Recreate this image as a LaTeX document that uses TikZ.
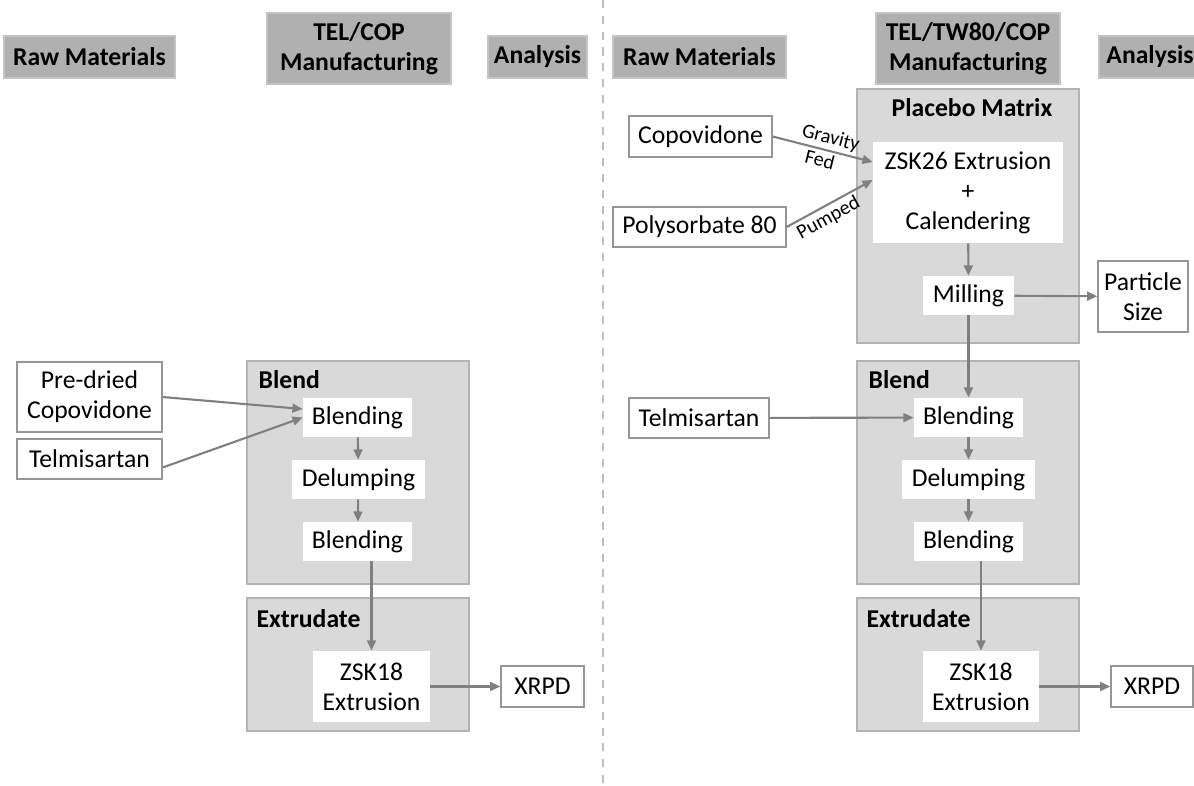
\documentclass[tikz,border=0pt]{standalone}
\usepackage{fontspec}
\setmainfont{Carlito}
\usepackage{tikz}
\usetikzlibrary{arrows.meta, positioning}
\definecolor{headbg}{RGB}{176,176,176}
\definecolor{headline}{RGB}{196,196,196}
\definecolor{groupbg}{RGB}{217,217,217}
\definecolor{groupline}{RGB}{180,180,180}
\definecolor{boxline}{RGB}{150,150,150}
\definecolor{arrowgray}{RGB}{128,128,128}
\definecolor{splitgray}{RGB}{190,190,190}

\begin{document}
\begin{tikzpicture}[
    mainfont/.style={font=\fontsize{14.6}{17}\selectfont},
    header/.style={rectangle, draw=headline, fill=headbg, line width=0.8pt, inner sep=0pt, align=center, font=\fontsize{14.6}{17}\selectfont\bfseries},
    group/.style={rectangle, draw=groupline, fill=groupbg, line width=0.8pt, inner sep=0pt},
    grouplabel/.style={inner sep=0pt, font=\fontsize{14.6}{17}\selectfont\bfseries},
    inbox/.style={rectangle, draw=boxline, fill=white, line width=0.7pt, inner sep=0pt, align=center, mainfont},
    procbox/.style={rectangle, fill=white, inner sep=0pt, align=center, mainfont},
    arrow/.style={-{Triangle[length=5.8pt, width=5pt]}, draw=arrowgray, line width=1.2pt},
    feedlabel/.style={inner sep=1.5pt, font=\fontsize{11.5}{13}\selectfont}
]
\clip (0,0) rectangle (23.88,-15.70);

\draw[splitgray, line width=1.6pt, dash pattern=on 4.6pt off 4.4pt] (12.06,0) -- (12.06,-15.70);

\node[header, minimum width=3.42cm, minimum height=0.84cm] (rawL) at (1.79,-1.14) {Raw Materials};
\node[header, minimum width=3.68cm, minimum height=1.42cm] (mfgL) at (7.18,-0.97) {TEL/COP\\Manufacturing};
\node[header, minimum width=1.98cm, minimum height=0.84cm] (anaL) at (10.75,-1.14) {Analysis};
\node[header, minimum width=3.46cm, minimum height=0.84cm] (rawR) at (13.99,-1.14) {Raw Materials};
\node[header, minimum width=3.68cm, minimum height=1.42cm] (mfgR) at (19.36,-0.97) {TEL/TW80/COP\\Manufacturing};
\node[header, minimum width=2.04cm, minimum height=0.84cm] (anaR) at (23.00,-1.14) {Analysis};

\node[group, minimum width=4.44cm, minimum height=4.46cm] (blendL) at (7.16,-9.45) {};
\node[group, minimum width=4.44cm, minimum height=2.66cm] (extL) at (7.16,-13.29) {};
\node[group, minimum width=4.44cm, minimum height=5.08cm] (placebo) at (19.36,-4.32) {};
\node[group, minimum width=4.44cm, minimum height=4.46cm] (blendR) at (19.36,-9.45) {};
\node[group, minimum width=4.44cm, minimum height=2.66cm] (extR) at (19.36,-13.29) {};

\node[grouplabel, anchor=base west] (blendLlbl) at ([xshift=0.24cm, yshift=-0.56cm]blendL.north west) {Blend};
\node[grouplabel, anchor=base west] (extLlbl) at ([xshift=0.20cm, yshift=-0.60cm]extL.north west) {Extrudate};
\node[grouplabel, anchor=base] (placebolbl) at ([xshift=0.08cm, yshift=-0.56cm]placebo.north) {Placebo Matrix};
\node[grouplabel, anchor=base west] (blendRlbl) at ([xshift=0.24cm, yshift=-0.56cm]blendR.north west) {Blend};
\node[grouplabel, anchor=base west] (extRlbl) at ([xshift=0.20cm, yshift=-0.60cm]extR.north west) {Extrudate};

\node[inbox, minimum width=2.90cm, minimum height=1.40cm] (predried) at (1.79,-7.94) {Pre-dried\\Copovidone};
\node[inbox, minimum width=2.90cm, minimum height=0.80cm] (telL) at (1.79,-9.18) {Telmisartan};
\node[procbox, minimum width=2.18cm, minimum height=0.78cm] (blendA) at (7.15,-8.35) {Blending};
\node[procbox, minimum width=2.66cm, minimum height=0.78cm] (delumpL) at (7.17,-9.59) {Delumping};
\node[procbox, minimum width=2.18cm, minimum height=0.78cm] (blendB) at (7.15,-10.83) {Blending};
\node[procbox, minimum width=2.34cm, minimum height=1.42cm] (zskL) at (7.43,-13.73) {ZSK18\\Extrusion};
\node[inbox, minimum width=1.66cm, minimum height=0.82cm] (xrpdL) at (10.85,-13.73) {XRPD};

\node[inbox, minimum width=2.86cm, minimum height=0.82cm] (copo) at (14.01,-2.73) {Copovidone};
\node[inbox, minimum width=3.46cm, minimum height=0.80cm] (poly) at (13.99,-4.54) {Polysorbate 80};
\node[procbox, minimum width=3.80cm, minimum height=2.02cm] (zsk26) at (19.36,-3.85) {ZSK26 Extrusion\\+\\Calendering};
\node[procbox, minimum width=1.82cm, minimum height=0.78cm] (milling) at (19.37,-5.91) {Milling};
\node[inbox, minimum width=1.80cm, minimum height=1.42cm] (particle) at (22.86,-5.93) {Particle\\Size};
\node[inbox, minimum width=2.80cm, minimum height=0.80cm] (telR) at (13.98,-8.36) {Telmisartan};
\node[procbox, minimum width=2.18cm, minimum height=0.78cm] (blendC) at (19.37,-8.35) {Blending};
\node[procbox, minimum width=2.66cm, minimum height=0.78cm] (delumpR) at (19.37,-9.59) {Delumping};
\node[procbox, minimum width=2.18cm, minimum height=0.78cm] (blendD) at (19.37,-10.83) {Blending};
\node[procbox, minimum width=2.32cm, minimum height=1.42cm] (zskR) at (19.62,-13.73) {ZSK18\\Extrusion};
\node[inbox, minimum width=1.64cm, minimum height=0.82cm] (xrpdR) at (23.04,-13.73) {XRPD};

\draw[arrow] (predried.east) -- ([yshift=0.17cm]blendA.west);
\draw[arrow] ([yshift=-0.17cm]telL.east) -- (blendA.west);
\draw[arrow] (blendA) -- (delumpL);
\draw[arrow] (delumpL) -- (blendB);
\draw[arrow] (blendB.south -| zskL.north) -- (zskL.north);
\draw[arrow] (zskL) -- (xrpdL);

\draw[arrow] (copo.east) -- node[feedlabel, sloped, above, pos=0.55] {Gravity} node[feedlabel, sloped, below, pos=0.5] {Fed} ([yshift=0.61cm]zsk26.west);
\draw[arrow] (poly.east) -- node[feedlabel, sloped, below, pos=0.42] {Pumped} ([yshift=0.25cm]zsk26.west);
\draw[arrow] (zsk26) -- (milling);
\draw[arrow] (milling) -- (particle);
\draw[arrow] (milling) -- (blendC);
\draw[arrow] (telR) -- (blendC);
\draw[arrow] (blendC) -- (delumpR);
\draw[arrow] (delumpR) -- (blendD);
\draw[arrow] (blendD.south -| zskR.north) -- (zskR.north);
\draw[arrow] (zskR) -- (xrpdR);

\end{tikzpicture}
\end{document}
